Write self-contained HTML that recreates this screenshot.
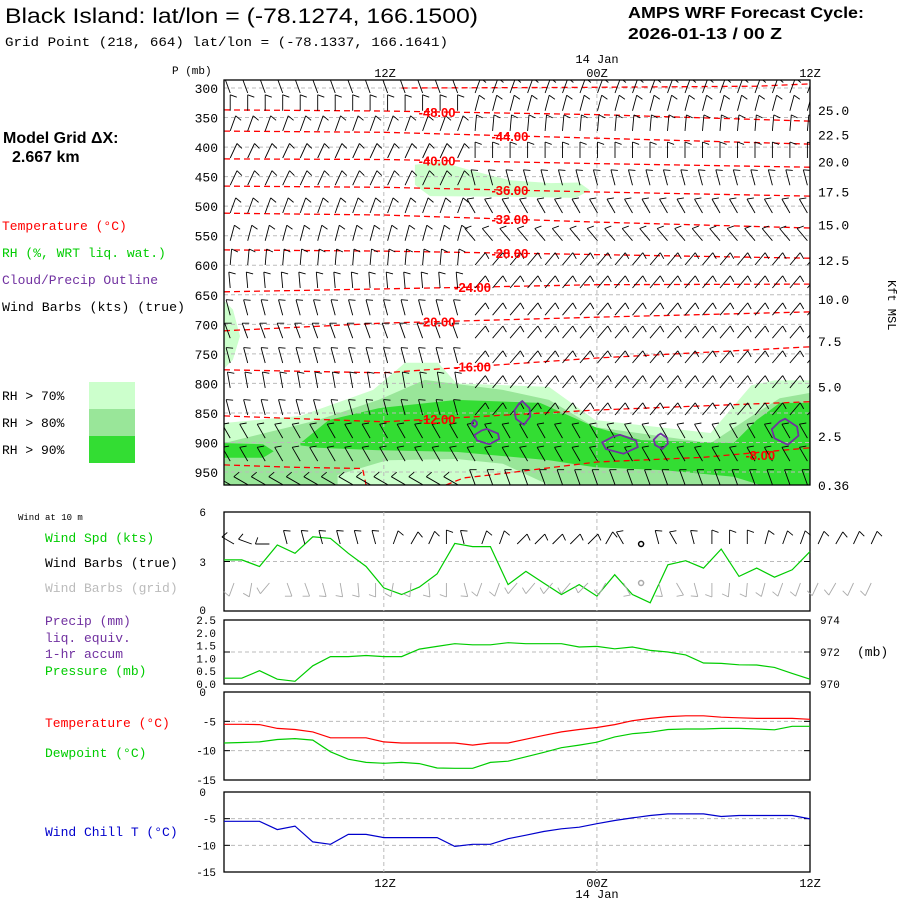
<!DOCTYPE html>
<html><head><meta charset="utf-8"><style>
html,body{margin:0;padding:0;background:#fff;}
svg{display:block;}
text{font-family:"Liberation Mono","DejaVu Sans Mono",monospace;}
.sans{font-family:"Liberation Sans",sans-serif;}
</style></head><body>
<svg id="chart" width="900" height="900" viewBox="0 0 900 900" xmlns="http://www.w3.org/2000/svg">
<rect width="900" height="900" fill="#fff"/>
<text class="sans" x="5" y="23" font-size="21" textLength="473" lengthAdjust="spacingAndGlyphs">Black Island:  lat/lon = (-78.1274, 166.1500)</text>
<text x="5" y="46" font-size="13" textLength="443" lengthAdjust="spacingAndGlyphs">Grid Point (218, 664) lat/lon = (-78.1337, 166.1641)</text>
<text class="sans" x="628" y="18" font-size="16" font-weight="bold" textLength="236" lengthAdjust="spacingAndGlyphs">AMPS WRF Forecast Cycle:</text>
<text class="sans" x="628" y="39" font-size="16" font-weight="bold" textLength="154" lengthAdjust="spacingAndGlyphs">2026-01-13 / 00  Z</text>
<text x="597" y="63" font-size="12" text-anchor="middle">14 Jan</text>
<text x="172" y="74" font-size="11">P (mb)</text>
<text x="385" y="77" font-size="12" text-anchor="middle">12Z</text>
<text x="597" y="77" font-size="12" text-anchor="middle">00Z</text>
<text x="810" y="77" font-size="12" text-anchor="middle">12Z</text>
<text class="sans" x="3" y="143" font-size="16" font-weight="bold">Model Grid ΔX:</text>
<text class="sans" x="12" y="162" font-size="16" font-weight="bold">2.667 km</text>
<text x="2" y="230" font-size="13" fill="#ff0000">Temperature (°C)</text>
<text x="2" y="257" font-size="13" fill="#00cc00">RH (%, WRT liq. wat.)</text>
<text x="2" y="284" font-size="13" fill="#7030a0">Cloud/Precip Outline</text>
<text x="2" y="311" font-size="13" fill="#000" textLength="183" lengthAdjust="spacingAndGlyphs">Wind Barbs (kts) (true)</text>
<rect x="89" y="382" width="46" height="27" fill="#ccffcc"/>
<rect x="89" y="409" width="46" height="27" fill="#99e699"/>
<rect x="89" y="436" width="46" height="27" fill="#33dd33"/>
<text x="2" y="400" font-size="13">RH &gt; 70%</text>
<text x="2" y="427" font-size="13">RH &gt; 80%</text>
<text x="2" y="454" font-size="13">RH &gt; 90%</text>
<text x="888" y="280" font-size="12" transform="rotate(90 888 280)">Kft MSL</text>

<text x="18" y="520" font-size="9">Wind at 10 m</text>
<text x="45" y="542" font-size="13" fill="#00cc00">Wind Spd (kts)</text>
<text x="45" y="567" font-size="13" fill="#000">Wind Barbs (true)</text>
<text x="45" y="592" font-size="13" fill="#bbbbbb">Wind Barbs (grid)</text>
<text x="45" y="625" font-size="13" fill="#7030a0">Precip (mm)</text>
<text x="45" y="642" font-size="13" fill="#7030a0">liq. equiv.</text>
<text x="45" y="658" font-size="13" fill="#7030a0">1-hr accum</text>
<text x="45" y="675" font-size="13" fill="#00cc00">Pressure (mb)</text>
<text x="45" y="727" font-size="13" fill="#ff0000">Temperature (°C)</text>
<text x="45" y="757" font-size="13" fill="#00cc00">Dewpoint (°C)</text>
<text x="45" y="836" font-size="13" fill="#0000cc">Wind Chill T (°C)</text>
<text x="857" y="656" font-size="13">(mb)</text>
<text x="385" y="887" font-size="12" text-anchor="middle">12Z</text>
<text x="597" y="887" font-size="12" text-anchor="middle">00Z</text>
<text x="810" y="887" font-size="12" text-anchor="middle">12Z</text>
<text x="597" y="898" font-size="12" text-anchor="middle">14 Jan</text>
<g id="g"></g>
</svg>
<script>
// ---- data ----
const hours = [0,1,2,3,4,5,6,7,8,9,10,11,12,13,14,15,16,17,18,19,20,21,22,23,24,25,26,27,28,29,30,31,32,33];
const windSpd = [3.1,3.1,2.7,4.0,3.5,4.5,4.4,3.5,2.7,1.4,1.0,1.45,2.25,4.1,3.9,3.9,1.6,2.4,1.7,1.0,1.6,0.9,2.2,1.0,0.5,2.8,3.05,2.6,3.75,2.1,2.6,2.05,2.5,3.6];
const sfcPres = [970.36,970.36,970.83,970.3,970.17,971.14,971.71,971.71,971.78,971.71,971.71,972.18,972.35,972.52,972.45,972.45,972.58,972.52,972.52,972.52,972.31,972.35,972.2,972.31,972.1,972.0,971.82,971.31,971.29,971.2,971.19,971.04,970.66,970.3];
const temp = [-5.5,-5.5,-5.55,-6.2,-6.4,-6.8,-7.8,-7.8,-7.8,-8.5,-8.7,-8.7,-8.7,-8.7,-9.05,-8.7,-8.7,-8.05,-7.4,-6.8,-6.4,-6.05,-5.55,-4.9,-4.5,-4.2,-4.05,-4.05,-4.3,-4.4,-4.5,-4.5,-4.5,-4.65];
const dewp = [-8.7,-8.6,-8.5,-8.1,-7.95,-8.2,-10.2,-11.45,-12.0,-12.15,-12.0,-12.2,-12.95,-13.0,-13.0,-12.0,-11.8,-11.05,-10.3,-9.5,-9.05,-8.55,-7.65,-7.1,-6.85,-6.4,-6.3,-6.3,-6.2,-6.2,-6.3,-6.45,-5.85,-5.85];
const windChill = [-5.5,-5.5,-5.5,-7.05,-6.4,-9.35,-9.8,-7.95,-7.95,-8.55,-8.55,-8.55,-8.55,-10.2,-9.8,-9.8,-8.75,-8.1,-7.4,-6.9,-6.6,-5.95,-5.35,-4.85,-4.4,-4.1,-4.1,-4.1,-4.6,-4.4,-4.4,-4.4,-4.4,-5.05];
const sfcDirTrue = [300,290,270,345,345,345,345,345,345,20,30,25,0,345,20,20,45,45,45,45,45,30,330,999,345,330,345,0,0,0,15,20,20,25,30,25,25];
const sfcDirGrid = [200,190,220,160,160,165,170,175,180,190,185,175,180,165,200,200,220,220,220,220,225,210,150,999,165,150,165,180,185,185,195,200,200,205,210,205,205];
const pTicks = [300,350,400,450,500,550,600,650,700,750,800,850,900,950];
const kftLabels = ["25.0","22.5","20.0","17.5","15.0","12.5","10.0","7.5","5.0","2.5","0.36"];
const kftPres = [337,379,424,475,531,591,657,728,805,889,972];
const isoLevels = [-48,-44,-40,-36,-32,-28,-24,-20,-16,-12];
const isoHours = [0,9,21,33];
const isoP48 = [337,339,345,356];
const isoP44 = [373,375,385,395];
const isoP40 = [420,421,428,434];
const isoP36 = [466,468,476,483];
const isoP32 = [512,515,527,537];
const isoP28 = [574,576,582,588];
const isoP24 = [645,640,633,632];
const isoP20 = [711,698,688,679];
const isoP16 = [777,782,757,738];
const isoP12 = [855,865,845,831];
const isoLabelHour = [12.0,16.1,12.0,16.1,16.1,16.1,14.0,12.0,14.0,12.0];
const iso8Right = [[12.5,972],[13.5,960],[15,955],[21,933],[27,925],[33,909]];
const iso8Left = [[0,938],[4,942],[7.8,944],[8,972]];
const iso52 = [[10,300],[20,299],[30,297],[33,293]];
const rhLight = [[0,867],[4.3,855],[8.4,811],[10.2,765],[12.05,765],[13.1,800],[18.3,806],[20.9,862],[27.4,884],[29.7,803],[31,795],[33,795],[33,972],[0,972]];
const rhLightUpper = [[10.75,430],[12.2,425],[13.85,439],[16.1,456],[18.4,461],[20,460],[20.6,473],[19.8,486],[16.1,484],[11.6,483],[10.75,464]];
const rhLightLeft = [[0,660],[0.5,675],[0.9,720],[0.5,760],[0,775]];
const rhMed = [[0,901],[5.3,862],[8.7,828],[11.3,794],[15.7,811],[18.3,828],[20.9,874],[27.4,901],[30,850],[31.3,825],[33,816],[33,972],[0,972]];
const rhDark = [[4.3,901],[5.9,862],[8.7,842],[13.1,828],[17.8,833],[20.9,874],[23.5,896],[28.7,901],[30,862],[31.3,833],[33,833],[33,972],[30.2,972],[28.7,958],[24.8,947],[20.9,942],[18.3,930],[13.1,916],[8.7,913],[5.3,909],[4.3,905]];
const rhDarkLeft = [[0,901],[2.2,903],[2.8,915],[2.2,926],[0,926]];
const rhLightBottom = [[6.4,972],[6.4,955],[9.2,930],[13.1,928],[15.7,936],[18.3,972]];
const cloudHour = [16.8,14.8,14.1,22.3,24.6,31.6];
const cloudPres = [850,890,868,903,898,882];
const cloudHalfH = [0.45,0.7,0.15,1.0,0.4,0.75];
const cloudHalfP = [20,13,6,16,13,22];
const barbLevels = [295,325,359,405,451,498,545,586,625,671,710,752,794,840,879,918,958];
const barbDirEarly = [340,0,20,25,25,20,15,5,355,345,340,345,350,345,330,330,300];
const barbDirLate = [20,15,5,0,345,330,320,40,40,40,40,40,40,40,330,330,340];
const barbSpd = [10,10,10,10,10,10,10,10,10,10,10,10,10,10,10,10,10];

// ---- scales ----
const X0=224, X1=810;
const xh = h => X0 + h*(X1-X0)/33;
const yp = p => 88 + (p-300)*0.5908;
const yWind = v => 611 - v*(611-512)/6;
const yPres = v => 684 - (v-970)*(684-620)/4;
const yPrecip = v => 684 - v*(684-620)/2.5;
const yTemp = v => 692 - v*(780-692)/15;
const yChill = v => 792 - v*(872-792)/15;
const NS='http://www.w3.org/2000/svg';
const g=document.getElementById('g');
function mk(tag,attrs,parent){const e=document.createElementNS(NS,tag);for(const k in attrs)e.setAttribute(k,attrs[k]);(parent||g).appendChild(e);return e;}
function polyPts(arr){return arr.map(d=>xh(d[0]).toFixed(1)+','+yp(d[1]).toFixed(1)).join(' ');}

const defs=mk('defs',{});
const cp=mk('clipPath',{id:'mainclip'},defs);
mk('rect',{x:X0,y:80,width:X1-X0,height:405},cp);
const main=mk('g',{'clip-path':'url(#mainclip)'});



function rhPoly(arr,fill,name){const e=mk('polygon',{points:polyPts(arr),fill:fill},main);

}
rhPoly(rhLight,'#ccffcc','rh-70-region');
rhPoly(rhLightUpper,'#ccffcc','rh-70-region-upper');
rhPoly(rhLightLeft,'#ccffcc','rh-70-region-left');
rhPoly(rhMed,'#99e699','rh-80-region');
rhPoly(rhDark,'#33dd33','rh-90-region');
rhPoly(rhDarkLeft,'#33dd33','rh-90-region-left');
rhPoly(rhLightBottom,'#ccffcc','rh-70-region-surface');

pTicks.forEach(p=>{const l=mk('line',{x1:X0,x2:X1,y1:yp(p),y2:yp(p),stroke:'#bbb','stroke-dasharray':'4,3'},main);

});
[9,21].forEach(h=>{const l=mk('line',{x1:xh(h),x2:xh(h),y1:80,y2:485,stroke:'#bbb','stroke-dasharray':'4,3'},main);

});

const isoP=[isoP48,isoP44,isoP40,isoP36,isoP32,isoP28,isoP24,isoP20,isoP16,isoP12];
function isoLine(arr,name){const e=mk('polyline',{points:polyPts(arr),fill:'none',stroke:'#ff0000','stroke-width':1.3,'stroke-dasharray':'6,4'},main);

}
isoLevels.forEach((lv,i)=>{isoLine(isoHours.map((h,j)=>[h,isoP[i][j]]),'isotherm-'+(-lv));});
isoLine(iso8Right,'isotherm-8');
isoLine(iso8Left,'isotherm-8-left');
isoLine(iso52,'isotherm-52');

// barbs
function barb(parent,x,y,dir,spd,color,len,name){
  const gg=mk('g',{},parent);
  
  
  if(dir===999){mk('circle',{cx:x,cy:y,r:2.5,fill:'none',stroke:color,'stroke-width':1.5},gg);return;}
  const r=dir*Math.PI/180;const ux=Math.sin(r),uy=-Math.cos(r);
  const tx=x+ux*len,ty=y+uy*len;
  let d='M'+x.toFixed(1)+','+y.toFixed(1)+'L'+tx.toFixed(1)+','+ty.toFixed(1);
  const a=Math.atan2(uy,ux)+110*Math.PI/180;const bx=Math.cos(a),by=Math.sin(a);
  let n=Math.floor(spd/10),half=(spd%10)>=5;let k=0;
  for(let i=0;i<n;i++){const sx=tx-ux*k*3,sy=ty-uy*k*3;d+='M'+sx.toFixed(1)+','+sy.toFixed(1)+'l'+(bx*7).toFixed(1)+','+(by*7).toFixed(1);k++;}
  if(half){const sx=tx-ux*k*3,sy=ty-uy*k*3;d+='M'+sx.toFixed(1)+','+sy.toFixed(1)+'l'+(bx*4).toFixed(1)+','+(by*4).toFixed(1);}
  mk('path',{d:d,fill:'none',stroke:color,'stroke-width':0.9},gg);
}
barbLevels.forEach((p,i)=>{for(let c=0;c<34;c++){const h=c*0.985+0.35;const dir=h<14?barbDirEarly[i]:barbDirLate[i];
barb(main,xh(h),yp(p)+8,dir,barbSpd[i],'#000',16,'upper-wind-barb');}});

function interp(hs,ps,h){for(let j=0;j<hs.length-1;j++){if(h<=hs[j+1]){const t=(h-hs[j])/(hs[j+1]-hs[j]);return ps[j]+t*(ps[j+1]-ps[j]);}}return ps[ps.length-1];}
isoLevels.forEach((lv,i)=>{const h=isoLabelHour[i];const p=interp(isoHours,isoP[i],h);
const t=mk('text',{x:xh(h),y:yp(p)+5,'font-size':13,'font-weight':'bold',fill:'#ff0000','text-anchor':'middle',class:'sans'},main);
t.textContent=lv.toFixed(2);

});
{const t=mk('text',{x:xh(30.2),y:yp(921)+5,'font-size':13,'font-weight':'bold',fill:'#ff0000','text-anchor':'middle',class:'sans'},main);
t.textContent='-8.00';

}

cloudHour.forEach((h,i)=>{const cx=xh(h),cy=yp(cloudPres[i]),rx=cloudHalfH[i]*17.76,ry=cloudHalfP[i]*0.5908;
const pts=[[0,-ry],[rx*0.9,-ry*0.4],[rx,ry*0.3],[rx*0.2,ry],[-rx*0.8,ry*0.5],[-rx,-ry*0.2],[-rx*0.4,-ry*0.8]].map(d=>(cx+d[0]).toFixed(1)+','+(cy+d[1]).toFixed(1)).join(' ');
const e=mk('polygon',{points:pts,fill:'none',stroke:'#7030a0','stroke-width':1.8},main);

});

{const r=mk('rect',{x:X0,y:80,width:X1-X0,height:405,fill:'none',stroke:'#000','stroke-width':1.3});

}
pTicks.forEach(p=>{const t=mk('text',{x:218,y:yp(p)+5,'font-size':13,'text-anchor':'end'});t.textContent=p;

});
kftLabels.forEach((s,i)=>{const t=mk('text',{x:818,y:yp(kftPres[i])+5,'font-size':13});t.textContent=s;

});

function panel(y0,y1,name){const r=mk('rect',{x:X0,y:y0,width:X1-X0,height:y1-y0,fill:'none',stroke:'#000','stroke-width':1.3});


[9,21].forEach(h=>{const l=mk('line',{x1:xh(h),x2:xh(h),y1:y0,y2:y1,stroke:'#bbb','stroke-dasharray':'4,3'});

});}
function hgrid(y,name){const l=mk('line',{x1:X0,x2:X1,y1:y,y2:y,stroke:'#bbb','stroke-dasharray':'4,3'});


mk('line',{x1:X0,x2:X0+6,y1:y,y2:y,stroke:'#000'});mk('line',{x1:X1-6,x2:X1,y1:y,y2:y,stroke:'#000'});}
function lbl(x,y,s,anchor,size){const t=mk('text',{x:x,y:y,'font-size':size||11,'text-anchor':anchor||'end'});t.textContent=s;

}
function series(vals,yf,color,name){const pts=hours.map((h,i)=>xh(h).toFixed(1)+','+yf(vals[i]).toFixed(1)).join(' ');
const e=mk('polyline',{points:pts,fill:'none',stroke:color,'stroke-width':1.2});

}

panel(512,611,'wind-panel');
hgrid(yWind(3),'wind-gridline');
lbl(206,516,'6');lbl(206,566,'3');lbl(206,614,'0');
series(windSpd,yWind,'#00cc00','wind-speed-line');
sfcDirTrue.forEach((d,i)=>barb(g,234+i*17.7,544,d,d===999?0:10,'#000',14,'surface-barb-true'));
sfcDirGrid.forEach((d,i)=>barb(g,234+i*17.7,583,d,d===999?0:10,'#aaa',14,'surface-barb-grid'));

panel(620,684,'precip-pressure-panel');
hgrid(yPres(972),'pressure-gridline-972');
['2.5','2.0','1.5','1.0','0.5','0.0'].forEach(s=>lbl(216,yPrecip(parseFloat(s))+4,s));
lbl(820,624,'974','start');lbl(820,656,'972','start');lbl(820,688,'970','start');
series(sfcPres,yPres,'#00cc00','surface-pressure-line');

panel(692,780,'temperature-panel');
hgrid(yTemp(-5),'temp-gridline');hgrid(yTemp(-10),'temp-gridline');
lbl(206,696,'0');lbl(216,yTemp(-5)+4,'-5');lbl(216,yTemp(-10)+4,'-10');lbl(216,784,'-15');
series(temp,yTemp,'#ff0000','temperature-line');
series(dewp,yTemp,'#00cc00','dewpoint-line');

panel(792,872,'wind-chill-panel');
hgrid(yChill(-5),'chill-gridline');hgrid(yChill(-10),'chill-gridline');
lbl(206,796,'0');lbl(216,yChill(-5)+4,'-5');lbl(216,yChill(-10)+4,'-10');lbl(216,876,'-15');
series(windChill,yChill,'#0000cc','wind-chill-line');
</script>
</body></html>
